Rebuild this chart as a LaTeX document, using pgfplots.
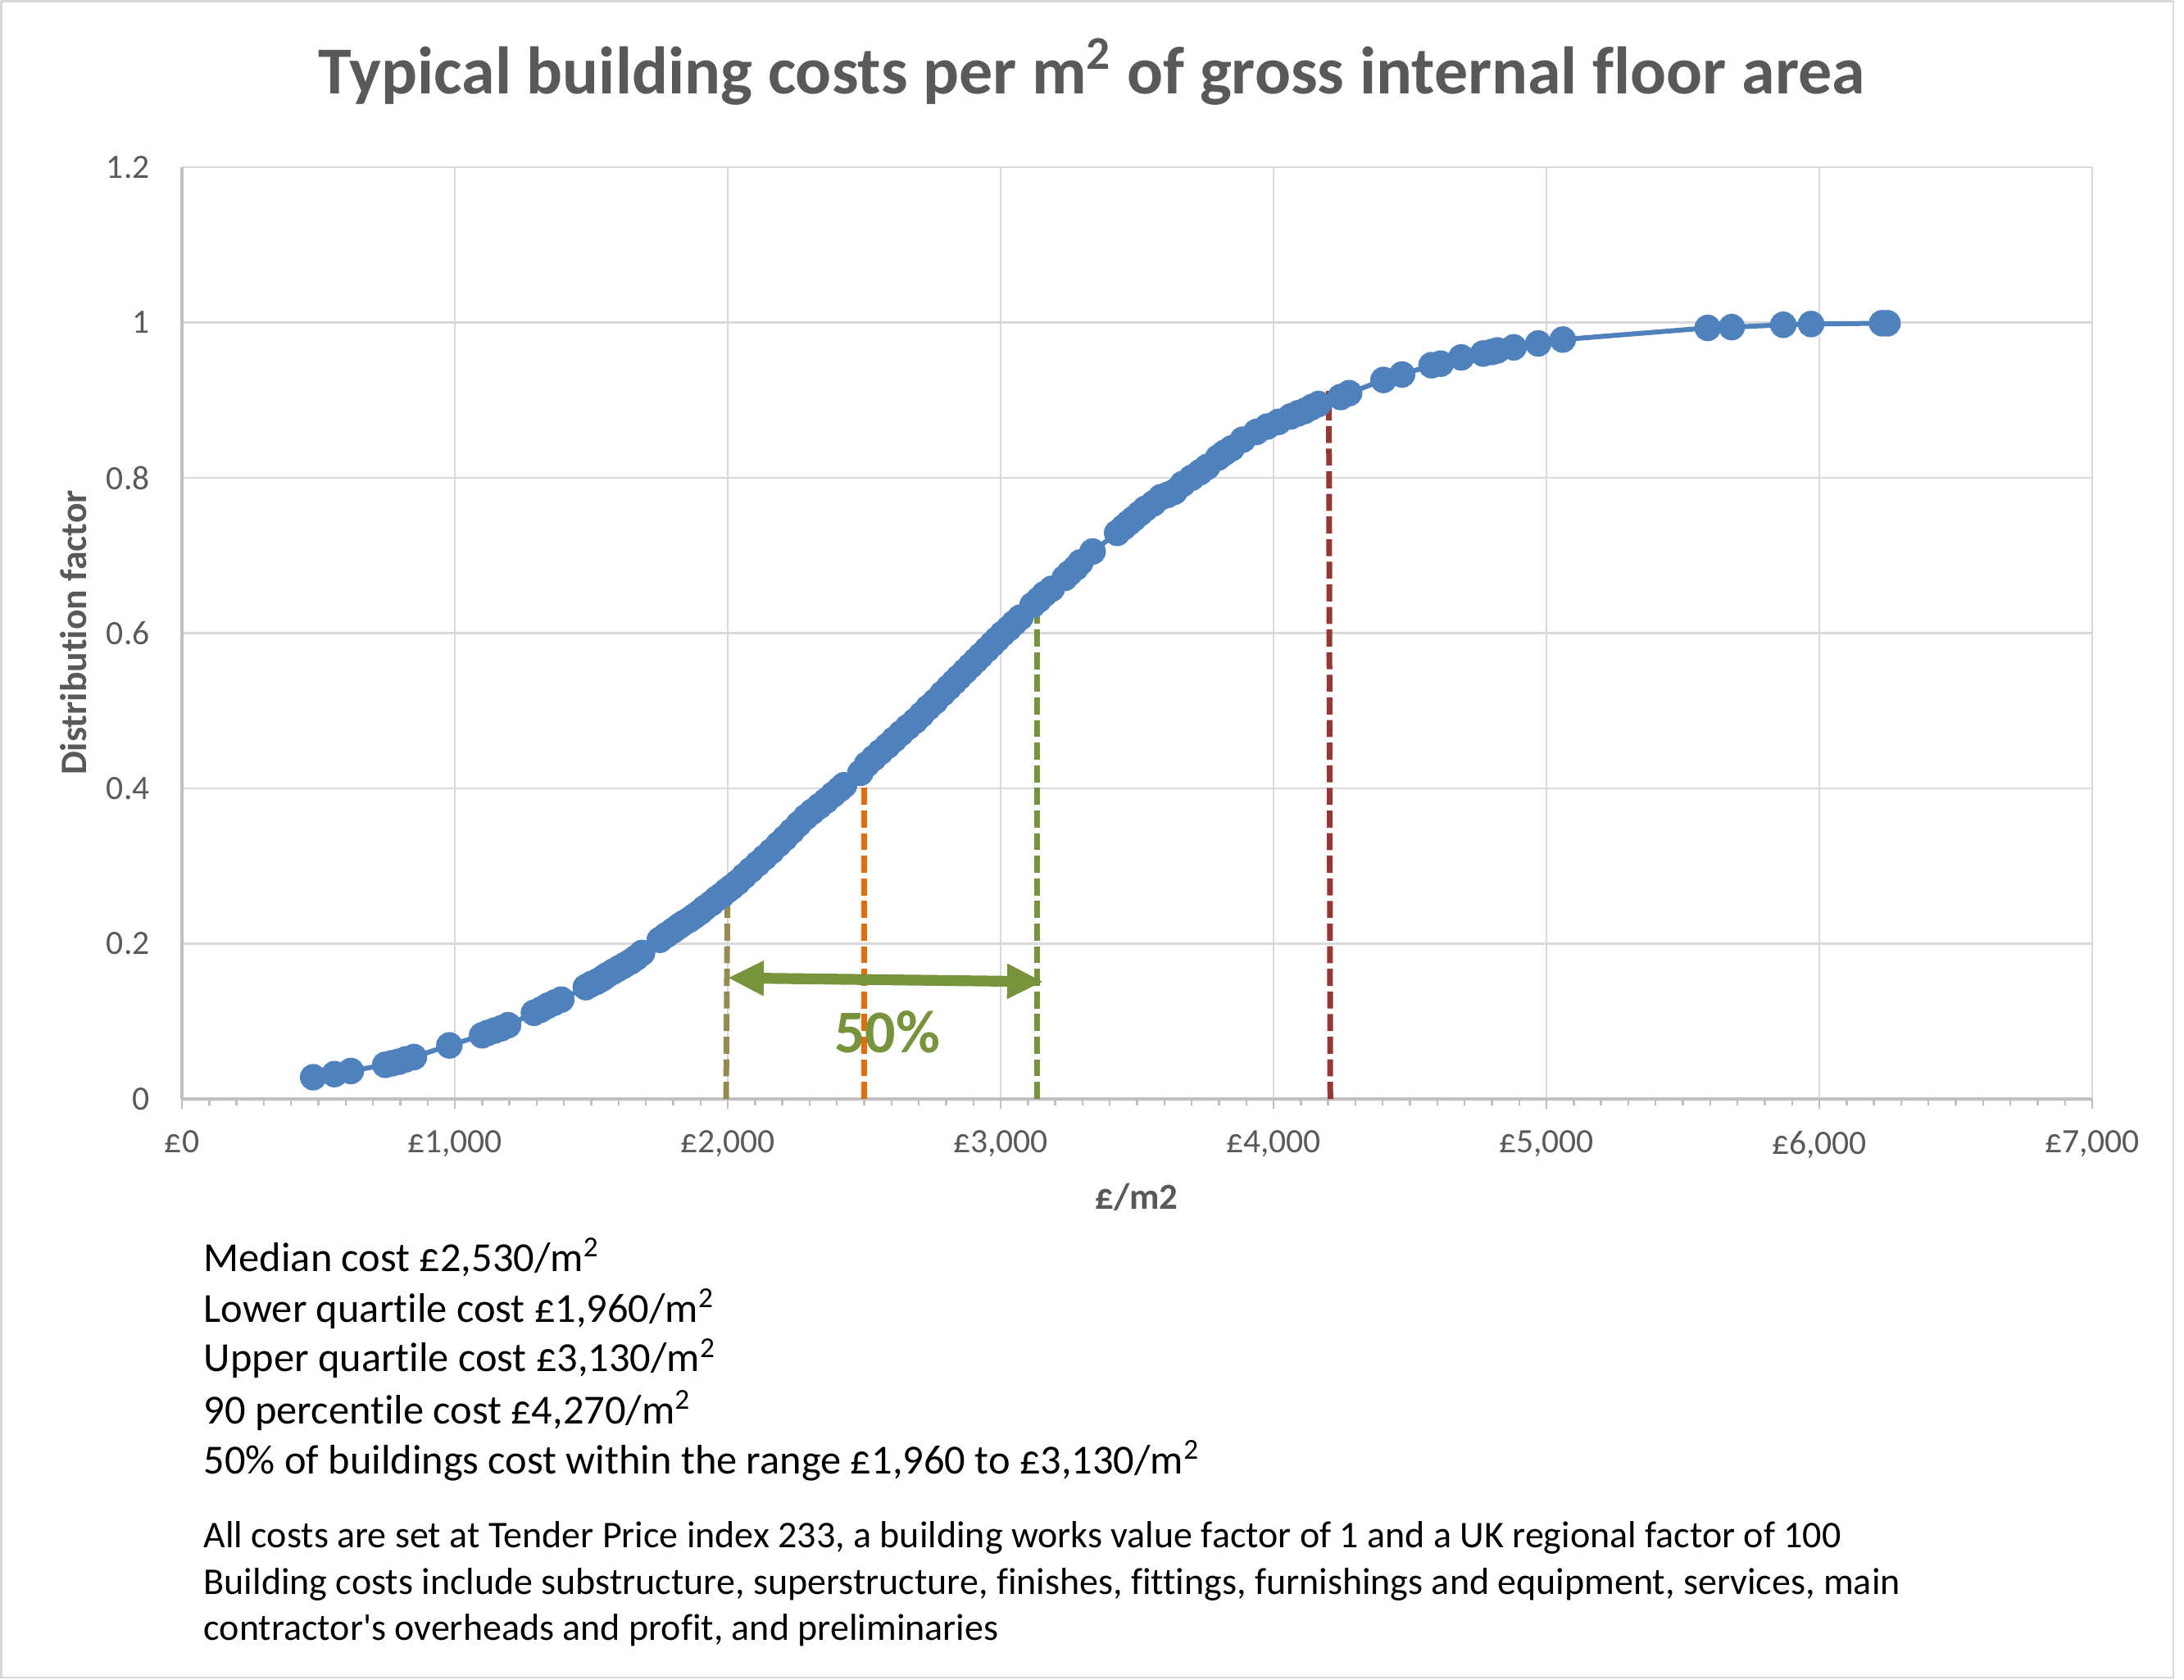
\documentclass[border=0pt]{standalone}
\usepackage{fontspec}
\setmainfont{Carlito}[Ligatures={TeX,NoCommon}]
\usepackage{pgfplots}
\pgfplotsset{compat=1.18}
\usetikzlibrary{arrows.meta}
\definecolor{serblue}{HTML}{4F81BD}
\definecolor{gridgray}{HTML}{D9D9D9}
\definecolor{axgray}{HTML}{BFBFBF}
\definecolor{txtgray}{HTML}{595959}
\definecolor{medorange}{HTML}{E46C0A}
\definecolor{uqgreen}{HTML}{77933C}
\definecolor{lqolive}{HTML}{948A54}
\definecolor{p90red}{HTML}{953735}
\begin{document}
\begin{tikzpicture}
\path (0,0) rectangle (666.25pt,512.25pt);
\draw[gridgray, line width=0.7pt] (0.35pt,0.5pt) rectangle (663pt,511.9pt);
\node[anchor=base, text=txtgray, font=\fontsize{20.5}{24}\selectfont\bfseries] at (333.1pt,483.5pt) {Typical building costs per m\textsuperscript{2} of gross internal floor area};
\begin{axis}[
  at={(55.5pt,177pt)}, anchor=south west,
  scale only axis, width=582.75pt, height=284.25pt,
  xmin=0, xmax=7000, ymin=0, ymax=1.2,
  axis lines=left,
  axis line style={draw=axgray, line width=0.85pt, -},
  xtick={0,1000,2000,3000,4000,5000,6000,7000},
  xticklabels={£0,{£1,000},{£2,000},{£3,000},{£4,000},{£5,000},{£6,000},{£7,000}},
  ytick={0,0.2,0.4,0.6,0.8,1,1.2},
  yticklabels={0,0.2,0.4,0.6,0.8,1,1.2},
  minor x tick num=9,
  xtick align=outside,
  major tick length=3pt, minor tick length=2pt,
  every tick/.style={draw=axgray, line width=0.6pt},
  ytick style={draw=none},
  grid=major,
  major grid style={draw=gridgray, line width=0.65pt},
  tick label style={text=txtgray, font=\fontsize{10.4}{12}\selectfont},
  yticklabel style={xshift=-4.8pt},
  xticklabel style={yshift=-3.2pt},
  clip=false,
]
\addplot[lqolive, line width=1.75pt, dash pattern=on 5.2pt off 1.7pt] coordinates {(1994,0) (1999,0.26)};
\addplot[medorange, line width=1.75pt, dash pattern=on 5.2pt off 1.7pt] coordinates {(2499,0) (2499,0.438)};
\addplot[uqgreen, line width=1.75pt, dash pattern=on 5.2pt off 1.7pt] coordinates {(3133,0) (3133,0.655)};
\addplot[p90red, line width=1.75pt, dash pattern=on 5.2pt off 1.7pt] coordinates {(4208,0) (4203,0.912)};
\addplot[uqgreen, line width=3.3pt, {Triangle[width=10pt,length=11pt]}-{Triangle[width=10pt,length=11pt]}] coordinates {(2000,0.156) (3156,0.151)};
\node[text=uqgreen, font=\fontsize{18.5}{21}\selectfont\bfseries] at (axis cs:2585,0.0865) {50\%};
\addplot[serblue, line width=1.5pt, mark=*, mark size=3.3pt, mark options={fill=serblue, draw=serblue}] coordinates {
(481,0.028) (559,0.032) (619,0.036) (745,0.044) (770,0.046) (795,0.048) (820,0.051) (850,0.054)
(980,0.069) (1100,0.082) (1120,0.085) (1145,0.088) (1170,0.091) (1195,0.095)
(1290,0.111) (1315,0.115) (1340,0.120) (1365,0.124) (1390,0.128)
(1480,0.144) (1500,0.148) (1520,0.151) (1540,0.155) (1556,0.159) (1580,0.164) (1600,0.168)
(1620,0.172) (1645,0.177) (1665,0.182) (1686,0.188)
(1751,0.205) (1775,0.211) (1800,0.217) (1820,0.222) (1836,0.226) (1860,0.231) (1880,0.236)
(1900,0.241) (1916,0.246) (1940,0.252) (1960,0.258) (1980,0.263) (1996,0.268) (2015,0.273)
(2036,0.279) (2060,0.287) (2085,0.295) (2110,0.303) (2135,0.311) (2160,0.319) (2186,0.328)
(2210,0.336) (2235,0.345) (2260,0.354) (2286,0.363) (2310,0.370) (2335,0.377) (2360,0.384)
(2386,0.392) (2410,0.399) (2426,0.404)
(2486,0.420) (2510,0.431) (2535,0.439) (2560,0.447) (2586,0.455) (2610,0.463) (2635,0.471)
(2660,0.479) (2687,0.487) (2710,0.495) (2735,0.504) (2760,0.512) (2787,0.522) (2810,0.530)
(2830,0.537) (2847,0.543) (2870,0.551) (2890,0.558) (2910,0.565) (2927,0.571) (2950,0.579)
(2970,0.586) (2987,0.592) (3007,0.599) (3030,0.606) (3050,0.613) (3072,0.620)
(3117,0.636) (3140,0.643) (3160,0.650) (3187,0.657)
(3235,0.671) (3252,0.677) (3275,0.684) (3292,0.691) (3337,0.705)
(3427,0.729) (3450,0.736) (3470,0.742) (3487,0.747) (3510,0.754) (3530,0.760) (3560,0.767)
(3587,0.775) (3612,0.778) (3637,0.782)
(3667,0.792) (3700,0.800) (3730,0.807) (3757,0.814)
(3797,0.826) (3820,0.832) (3847,0.838) (3887,0.849) (3937,0.859) (3977,0.866) (4018,0.872)
(4063,0.879) (4090,0.883) (4114,0.886) (4140,0.891) (4165,0.895)
(4246,0.904) (4277,0.909) (4403,0.926) (4471,0.933) (4579,0.945) (4613,0.947) (4688,0.955)
(4768,0.960) (4800,0.962) (4820,0.964) (4880,0.968) (4970,0.973) (5060,0.978)
(5591,0.993) (5679,0.994) (5868,0.997) (5970,0.998) (6230,0.999) (6250,0.999)
};
\end{axis}
\node[anchor=base, rotate=90, text=txtgray, font=\fontsize{11.4}{13}\selectfont\bfseries] at (26.25pt,319.25pt) {Distribution factor};
\node[anchor=base, text=txtgray, font=\fontsize{11.2}{13}\selectfont\bfseries] at (346.75pt,143.5pt) {£/m2};
\begin{scope}[every node/.style={anchor=base west, inner sep=0pt, font=\fontsize{12.6}{15}\selectfont}]
\node at (62pt,124.4pt) {Median cost £2,530/m\textsuperscript{2}};
\node at (62pt,109.0pt) {Lower quartile cost £1,960/m\textsuperscript{2}};
\node at (62pt,93.8pt) {Upper quartile cost £3,130/m\textsuperscript{2}};
\node at (62pt,78.0pt) {90 percentile cost £4,270/m\textsuperscript{2}};
\node at (62pt,62.75pt) {50\% of buildings cost within the range £1,960 to £3,130/m\textsuperscript{2}};
\end{scope}
\begin{scope}[every node/.style={anchor=base west, inner sep=0pt, font=\fontsize{11.5}{13}\selectfont}]
\node at (62pt,40.2pt) {All costs are set at Tender Price index 233, a building works value factor of 1 and a UK regional factor of 100};
\node at (62pt,25.85pt) {Building costs include substructure, superstructure, finishes, fittings, furnishings and equipment, services, main};
\node at (62pt,12.0pt) {contractor\textquotesingle s overheads and profit, and preliminaries};
\end{scope}
\end{tikzpicture}
\end{document}
